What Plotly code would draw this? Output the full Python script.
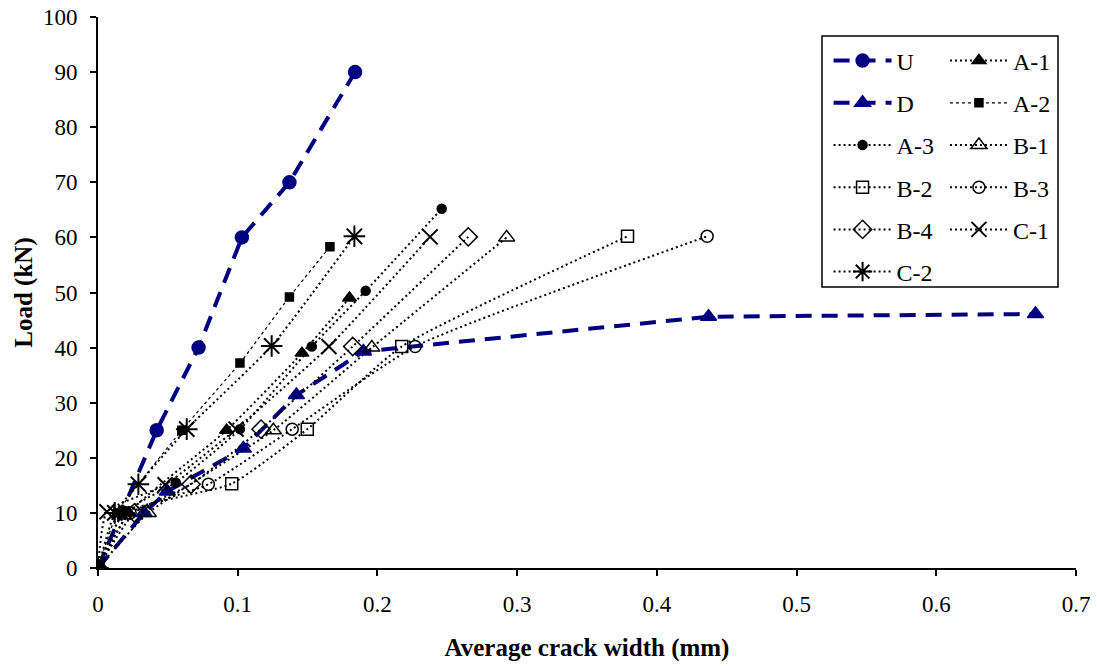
import plotly.graph_objects as go

# ---------------- data ----------------
U_x = [0, 0.042, 0.072, 0.103, 0.137, 0.184]
U_y = [0, 25, 40, 60, 70, 90]

D_x = [0, 0.033, 0.0496, 0.104, 0.142, 0.19, 0.437, 0.671]
D_y = [0, 10, 13.9, 21.7, 31.4, 39.3, 45.6, 46.1]

A1_x = [0, 0.022, 0.092, 0.146, 0.18]
A1_y = [0, 10, 25, 39, 49]

A2_x = [0, 0.014, 0.060, 0.1016, 0.137, 0.166]
A2_y = [0, 10, 25, 37.2, 49.2, 58.3]

A3_x = [0, 0.018, 0.0556, 0.1016, 0.153, 0.1916, 0.246]
A3_y = [0, 10, 15.5, 25.2, 40.2, 50.3, 65.2]

B1_x = [0, 0.036, 0.1255, 0.196, 0.2925]
B1_y = [0, 10, 25, 40, 60]

B2_x = [0, 0.019, 0.0957, 0.1498, 0.2174, 0.379]
B2_y = [0, 10, 15.3, 25.2, 40.2, 60.2]

B3_x = [0, 0.023, 0.079, 0.139, 0.227, 0.436]
B3_y = [0, 10, 15.2, 25.2, 40.2, 60.2]

B4_x = [0, 0.026, 0.0666, 0.1167, 0.1823, 0.265]
B4_y = [0, 10, 15.2, 25.2, 40.2, 60.1]

C1_x = [0, 0.0064, 0.048, 0.0988, 0.1653, 0.2377]
C1_y = [0, 10.2, 15.1, 25.2, 40.2, 60.1]

C2_x = [0, 0.012, 0.0289, 0.0635, 0.1243, 0.1835]
C2_y = [0, 10, 15.2, 25.2, 40.3, 60.2]

x_ticks = [0, 0.1, 0.2, 0.3, 0.4, 0.5, 0.6, 0.7]
x_tick_labels = ["0", "0.1", "0.2", "0.3", "0.4", "0.5", "0.6", "0.7"]
y_ticks = list(range(0, 101, 10))

NAVY = "#000080"
FONT = "Liberation Serif"

fig = go.Figure()

def add(name, xs, ys, color, dash, width, symbol, size, legend, shape="linear", mlw=1.5):
    fig.add_trace(go.Scatter(
        x=xs, y=ys, name=name, mode="lines+markers",
        line=dict(color=color, dash=dash, width=width, shape=shape, smoothing=0.5),
        marker=dict(symbol=symbol, size=size, color=color,
                    line=dict(color=color, width=mlw)),
        legend=legend, legendgroup=name,
    ))

DOT = "2px,3px"
# left column legend
add("U", U_x, U_y, NAVY, "16px,10px", 4, "circle", 13, "legend")
add("D", D_x, D_y, NAVY, "16px,10px", 4, "triangle-up", 14, "legend")
add("A-3", A3_x, A3_y, "black", DOT, 2, "circle", 9, "legend", "spline")
add("B-2", B2_x, B2_y, "black", DOT, 2, "square-open", 12, "legend", "spline")
add("B-4", B4_x, B4_y, "black", DOT, 2, "diamond-open", 14, "legend", "spline")
add("C-2", C2_x, C2_y, "black", DOT, 2, "asterisk-open", 18, "legend", "spline", 2)
# right column legend
add("A-1", A1_x, A1_y, "black", DOT, 2, "triangle-up", 12, "legend2", "spline")
add("A-2", A2_x, A2_y, "black", "3px,3px", 1.2, "square", 8, "legend2", "spline")
add("B-1", B1_x, B1_y, "black", DOT, 2, "triangle-up-open", 14, "legend2", "spline")
add("B-3", B3_x, B3_y, "black", DOT, 2, "circle-open", 12, "legend2", "spline")
add("C-1", C1_x, C1_y, "black", DOT, 2, "x-thin-open", 15, "legend2", "spline", 2)

leg_common = dict(
    bgcolor="rgba(0,0,0,0)", borderwidth=0,
    font=dict(family=FONT, size=24, color="black"),
    itemwidth=58, tracegroupgap=8,
    xanchor="left", yanchor="top", orientation="v",
)

fig.update_layout(
    width=1097, height=666,
    margin=dict(l=98, r=21, t=17, b=98),
    paper_bgcolor="white", plot_bgcolor="white",
    font=dict(family=FONT, color="black"),
    showlegend=True,
    legend=dict(x=0.747, y=0.961, **leg_common),
    legend2=dict(x=0.866, y=0.961, **leg_common),
    xaxis=dict(
        range=[0, 0.7], tickvals=x_ticks, ticktext=x_tick_labels, automargin=False,
        showgrid=False, zeroline=False, showline=True, linecolor="black", linewidth=2,
        ticks="outside", ticklen=6, tickwidth=1.5, tickcolor="black",
        ticklabelstandoff=8, ticklabeloverflow="allow",
        tickfont=dict(family=FONT, size=23, color="black"),
        title=dict(text="<b>Average crack width (mm)</b>",
                   font=dict(family=FONT, size=25, color="black"), standoff=23),
    ),
    yaxis=dict(
        range=[0, 100], tickvals=y_ticks, automargin=False,
        showgrid=False, zeroline=False, showline=True, linecolor="black", linewidth=2,
        ticks="outside", ticklen=6, tickwidth=1.5, tickcolor="black",
        ticklabelstandoff=8, ticklabeloverflow="allow",
        tickfont=dict(family=FONT, size=23, color="black"),
        title=dict(text="<b>Load (kN)</b>",
                   font=dict(family=FONT, size=25, color="black"), standoff=3),
    ),
    shapes=[dict(type="rect", xref="paper", yref="paper",
                 x0=(822 - 98) / 978, x1=(1058 - 98) / 978,
                 y0=(568 - 287) / 551, y1=(568 - 36) / 551,
                 line=dict(color="black", width=1.5))],
)

fig.write_html("out.html",
               config={"displayModeBar": False},
               post_script="document.body.style.margin='0px';document.body.style.overflow='hidden';")
